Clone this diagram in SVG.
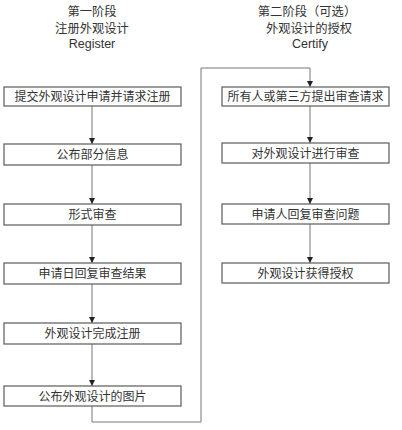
<svg xmlns="http://www.w3.org/2000/svg" width="402" height="430" viewBox="0 0 402 430">
<style>
.bg{fill:#fff}
.box{fill:#fff;stroke:#5a5a5a;stroke-width:1.2}
.t{font-family:"Noto Sans CJK SC","Noto Sans",sans-serif;font-size:12px;fill:#333;text-anchor:middle}
.h{font-family:"Noto Sans CJK SC","Noto Sans",sans-serif;font-size:12.3px;fill:#333;text-anchor:middle}
.e{font-family:"Liberation Sans",Arial,sans-serif;font-size:12.5px;fill:#333;text-anchor:middle}
.c{fill:none;stroke:#777;stroke-width:1}
</style>
<defs>
<marker id="arr" viewBox="0 0 6 6" refX="6" refY="3" markerWidth="6" markerHeight="6" markerUnits="userSpaceOnUse" orient="auto">
<path d="M0,0 L6,3 L0,6 Z" fill="#222"/>
</marker>
</defs>
<rect class="bg" x="0" y="0" width="402" height="430"/>
<g id="header-left">
<text class="h" x="92" y="15.5">第一阶段</text>
<text class="h" x="92" y="33">注册外观设计</text>
<text class="e" x="92" y="48">Register</text>
</g>
<g id="header-right">
<text class="h" x="307" y="15.5">第二阶段（可选）</text>
<text class="h" x="309" y="33">外观设计的授权</text>
<text class="e" x="310" y="48">Certify</text>
</g>
<g id="connectors">
<line class="c" x1="92" y1="106" x2="92" y2="144" marker-end="url(#arr)"/>
<line class="c" x1="92" y1="165" x2="92" y2="204" marker-end="url(#arr)"/>
<line class="c" x1="92" y1="225" x2="92" y2="263" marker-end="url(#arr)"/>
<line class="c" x1="92" y1="284" x2="92" y2="323" marker-end="url(#arr)"/>
<line class="c" x1="92" y1="344" x2="92" y2="386" marker-end="url(#arr)"/>
<polyline class="c" points="92,406 92,422 201,422 201,68 310,68 310,87" marker-end="url(#arr)"/>
<line class="c" x1="310" y1="106" x2="310" y2="143" marker-end="url(#arr)"/>
<line class="c" x1="310" y1="163" x2="310" y2="204" marker-end="url(#arr)"/>
<line class="c" x1="310" y1="224" x2="310" y2="263" marker-end="url(#arr)"/>
</g>
<g id="L1"><rect class="box" x="4" y="87" width="177" height="19"/><text class="t" x="92.5" y="101">提交外观设计申请并请求注册</text></g>
<g id="L2"><rect class="box" x="4" y="144" width="177" height="21"/><text class="t" x="92.5" y="159">公布部分信息</text></g>
<g id="L3"><rect class="box" x="4" y="204" width="177" height="21"/><text class="t" x="92.5" y="219">形式审查</text></g>
<g id="L4"><rect class="box" x="4" y="263" width="177" height="21"/><text class="t" x="92.5" y="278">申请日回复审查结果</text></g>
<g id="L5"><rect class="box" x="4" y="323" width="177" height="21"/><text class="t" x="92.5" y="338">外观设计完成注册</text></g>
<g id="L6"><rect class="box" x="4" y="386" width="177" height="20"/><text class="t" x="92.5" y="400.5">公布外观设计的图片</text></g>
<g id="R1"><rect class="box" x="222" y="87" width="167" height="19"/><text class="t" x="305.5" y="101">所有人或第三方提出审查请求</text></g>
<g id="R2"><rect class="box" x="222" y="143" width="167" height="20"/><text class="t" x="305.5" y="157.5">对外观设计进行审查</text></g>
<g id="R3"><rect class="box" x="222" y="204" width="167" height="20"/><text class="t" x="305.5" y="218.5">申请人回复审查问题</text></g>
<g id="R4"><rect class="box" x="222" y="263" width="167" height="20"/><text class="t" x="305.5" y="277.5">外观设计获得授权</text></g>
</svg>
